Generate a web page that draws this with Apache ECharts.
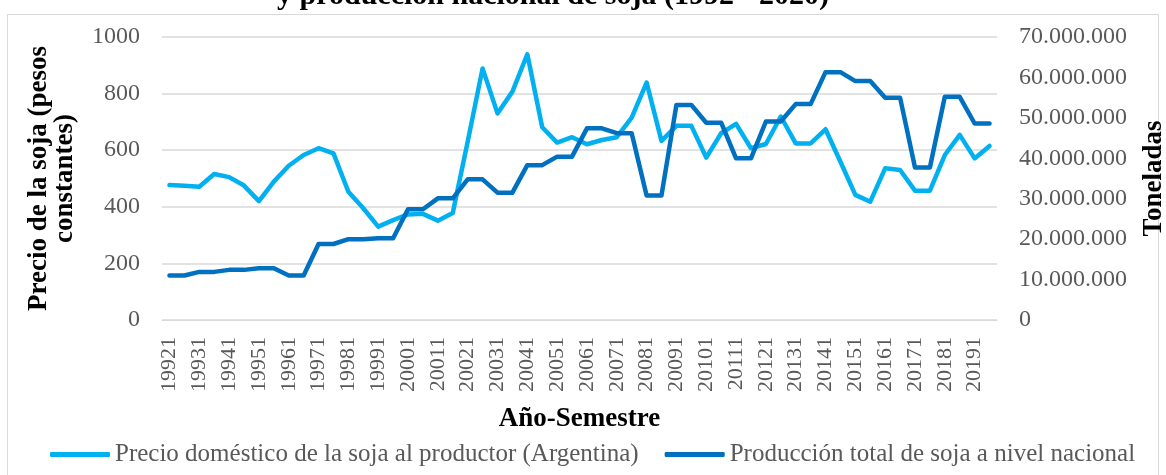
<!DOCTYPE html>
<html>
<head>
<meta charset="utf-8">
<script src="https://cdn.jsdelivr.net/npm/echarts@6/dist/echarts.min.js"></script>
<style>
  html, body { margin: 0; padding: 0; background: #fff; }
  #main { width: 1166px; height: 475px; }
</style>
</head>
<body>
<div id="main"></div>
<script>
// año + semestre
const categories = [
  "19921", "19922", "19931", "19932", "19941", "19942", "19951", "19952",
  "19961", "19962", "19971", "19972", "19981", "19982", "19991", "19992",
  "20001", "20002", "20011", "20012", "20021", "20022", "20031", "20032",
  "20041", "20042", "20051", "20052", "20061", "20062", "20071", "20072",
  "20081", "20082", "20091", "20092", "20101", "20102", "20111", "20112",
  "20121", "20122", "20131", "20132", "20141", "20142", "20151", "20152",
  "20161", "20162", "20171", "20172", "20181", "20182", "20191", "20192"
];

// precio doméstico (pesos constantes)
const precio = [
  477, 474, 471, 516, 505, 475, 420, 489, 545, 583, 607, 589, 453, 395,
  330, 353, 373, 375, 351, 378, 630, 889, 730, 807, 939, 681, 627, 646,
  621, 636, 646, 715, 839, 633, 686, 686, 574, 660, 693, 607, 622, 719,
  624, 624, 674, 559, 442, 418, 536, 530, 457, 457, 583, 654, 571, 615
];

// producción total (toneladas)
const produccion = [
  11000000, 11000000, 11900000, 11900000, 12400000, 12400000, 12800000, 12800000,
  11000000, 11000000, 18800000, 18800000, 20000000, 20000000, 20200000, 20200000,
  27400000, 27400000, 30100000, 30100000, 34800000, 34800000, 31500000, 31500000,
  38300000, 38300000, 40400000, 40400000, 47400000, 47400000, 46200000, 46200000,
  30800000, 30800000, 53200000, 53200000, 48800000, 48800000, 40000000, 40000000,
  49100000, 49100000, 53400000, 53400000, 61300000, 61300000, 59100000, 59100000,
  55000000, 55000000, 37700000, 37700000, 55200000, 55200000, 48600000, 48600000
];

const serif = "Liberation Serif";
const gris = "#595959";

const fmtMiles = (v) => String(v).replace(/\B(?=(\d{3})+(?!\d))/g, ".");

const myChart = echarts.init(document.getElementById("main"), null, { renderer: "canvas" });

const option = {
  animation: false,
  textStyle: { fontFamily: serif },
  title: {
    text: "y producción nacional de soja (1992 - 2020)",
    left: 272,
    top: -24,
    textStyle: { fontFamily: serif, fontWeight: "bold", fontSize: 30, color: "#000" },
  },
  graphic: [
    {
      type: "rect",
      shape: { x: 7.5, y: 14.5, width: 1151, height: 480 },
      style: { fill: "none", stroke: "#d9d9d9", lineWidth: 1 },
      silent: true,
    },
  ],
  legend: {
    top: 437,
    left: 45,
    itemWidth: 60,
    itemHeight: 5,
    itemGap: 26,
    icon: "roundRect",
    textStyle: { fontFamily: serif, fontSize: 25, color: gris },
  },
  grid: { left: 162, right: 169, top: 37, bottom: 155, outerBoundsMode: "none" },
  xAxis: {
    type: "category",
    data: categories,
    boundaryGap: true,
    name: "Año-Semestre",
    nameLocation: "middle",
    nameGap: 86,
    nameTextStyle: { fontFamily: serif, fontWeight: "bold", fontSize: 27, color: "#000" },
    axisLine: { lineStyle: { color: "#d9d9d9" } },
    axisTick: { show: false },
    axisLabel: {
      interval: 1,
      rotate: 90,
      margin: 17,
      fontFamily: serif,
      fontSize: 22,
      color: gris,
    },
  },
  yAxis: [
    {
      type: "value",
      min: 0,
      max: 1000,
      interval: 200,
      name: "Precio de la soja (pesos\nconstantes)",
      nameLocation: "middle",
      nameRotate: 90,
      nameGap: 84,
      nameTextStyle: {
        fontFamily: serif, fontWeight: "bold", fontSize: 27, color: "#000", lineHeight: 26,
      },
      axisLine: { show: false },
      axisTick: { show: false },
      splitLine: { lineStyle: { color: "#d9d9d9", width: 1.5 } },
      axisLabel: {
        margin: 22, fontFamily: serif, fontSize: 24, color: gris,
        formatter: (v) => String(v),
      },
    },
    {
      type: "value",
      min: 0,
      max: 70000000,
      interval: 10000000,
      name: "Toneladas",
      nameLocation: "middle",
      nameRotate: 90,
      nameGap: 144,
      nameTextStyle: { fontFamily: serif, fontWeight: "bold", fontSize: 27, color: "#000" },
      axisLine: { show: false },
      axisTick: { show: false },
      splitLine: { show: false },
      axisLabel: {
        margin: 22, fontFamily: serif, fontSize: 24, color: gris,
        formatter: fmtMiles,
      },
    },
  ],
  series: [
    {
      name: "Precio doméstico de la soja al productor (Argentina)",
      type: "line",
      yAxisIndex: 0,
      data: precio,
      symbol: "none",
      color: "#00B0F0",
      lineStyle: { width: 4.5, cap: "round", join: "round" },
    },
    {
      name: "Producción total de soja a nivel nacional",
      type: "line",
      yAxisIndex: 1,
      data: produccion,
      symbol: "none",
      color: "#0070C0",
      lineStyle: { width: 4.5, cap: "round", join: "round" },
    },
  ],
};

myChart.setOption(option);
</script>
</body>
</html>
